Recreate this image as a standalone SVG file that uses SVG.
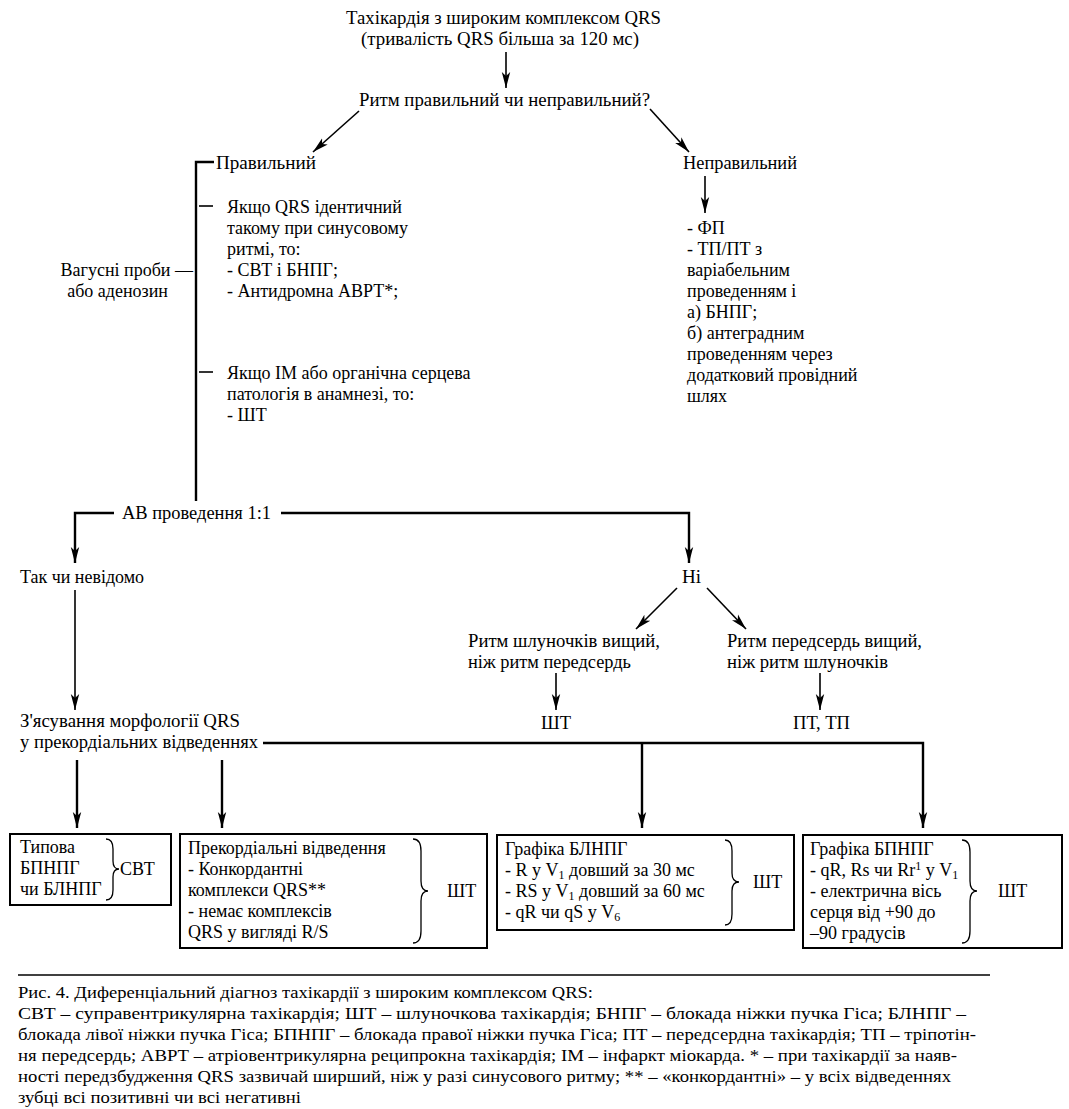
<svg xmlns="http://www.w3.org/2000/svg" width="1069" height="1109" viewBox="0 0 1069 1109">
<style>
  text { font-family: "Liberation Serif", "Times New Roman", serif; fill: #000; }
  .c { font-size: 19px; }
  .t { font-size: 18px; }
  .b { font-size: 18px; }
  .cap { font-size: 17px; }
  .ln { stroke: #000; stroke-width: 1.6; fill: none; }
  .thick { stroke: #000; stroke-width: 2.4; fill: none; }
  .box { stroke: #000; stroke-width: 2; fill: #fff; }
  .brace { stroke: #000; stroke-width: 1.3; fill: none; }
</style>
<defs>
  <marker id="ah" markerWidth="18" markerHeight="10" refX="16" refY="5" orient="auto" markerUnits="userSpaceOnUse">
    <path d="M0,0.8 L16,5 L0,9.2 L4,5 z" fill="#000"/>
  </marker>
</defs>
<rect width="1069" height="1109" fill="#fff"/>

<g id="connectors">
  <path class="ln" d="M506,52 V88" marker-end="url(#ah)"/>
  <path class="ln" d="M359,111 L313,152" marker-end="url(#ah)"/>
  <path class="ln" d="M650,109 L689,152" marker-end="url(#ah)"/>
  <path class="thick" d="M214,162 H196 V501"/>
  <path class="ln" d="M199,206 H213"/>
  <path class="ln" d="M199,372 H213"/>
  <path class="ln" d="M705,176 V213" marker-end="url(#ah)"/>
  <path class="thick" d="M114,513 H75 V563" marker-end="url(#ah)"/>
  <path class="thick" d="M281,513 H689 V563" marker-end="url(#ah)"/>
  <path class="ln" d="M75,590 V710" marker-end="url(#ah)"/>
  <path class="ln" d="M677,588 L636,629" marker-end="url(#ah)"/>
  <path class="ln" d="M707,588 L746,629" marker-end="url(#ah)"/>
  <path class="ln" d="M556,673 V710" marker-end="url(#ah)"/>
  <path class="ln" d="M820,673 V710" marker-end="url(#ah)"/>
  <path class="thick" d="M263,743 H923 V828" marker-end="url(#ah)"/>
  <path class="thick" d="M642,743 V828" marker-end="url(#ah)"/>
  <path class="thick" d="M77,760 V828" marker-end="url(#ah)"/>
  <path class="thick" d="M222,760 V828" marker-end="url(#ah)"/>
</g>

<g id="n-title">
  <text class="c" x="346" y="24" textLength="315" lengthAdjust="spacingAndGlyphs">Тахікардія з широким комплексом QRS</text>
  <text class="c" x="361" y="45" textLength="278" lengthAdjust="spacingAndGlyphs">(тривалість QRS більша за 120 мс)</text>
</g>
<g id="n-question">
  <text class="c" x="359" y="106" textLength="291" lengthAdjust="spacingAndGlyphs">Ритм правильний чи неправильний?</text>
</g>
<g id="n-regular">
  <text class="c" x="216" y="169" textLength="100" lengthAdjust="spacingAndGlyphs">Правильний</text>
</g>
<g id="n-irregular">
  <text class="c" x="683" y="169" textLength="114" lengthAdjust="spacingAndGlyphs">Неправильний</text>
</g>
<g id="n-vagal">
  <text class="t" x="193" y="276" text-anchor="end">Вагусні проби —</text>
  <text class="t" x="168" y="297" text-anchor="end">або аденозин</text>
</g>
<g id="n-identical">
  <text class="t" x="227" y="213">Якщо QRS ідентичний</text>
  <text class="t" x="227" y="234">такому при синусовому</text>
  <text class="t" x="227" y="255">ритмі, то:</text>
  <text class="t" x="227" y="276">- СВТ і БНПГ;</text>
  <text class="t" x="227" y="297">- Антидромна АВРТ*;</text>
</g>
<g id="n-mi">
  <text class="t" x="227" y="379">Якщо ІМ або органічна серцева</text>
  <text class="t" x="227" y="400">патологія в анамнезі, то:</text>
  <text class="t" x="227" y="421">- ШТ</text>
</g>
<g id="n-irregular-list">
  <text class="t" x="687" y="234">- ФП</text>
  <text class="t" x="687" y="255">- ТП/ПТ з</text>
  <text class="t" x="687" y="276">варіабельним</text>
  <text class="t" x="687" y="297">проведенням і</text>
  <text class="t" x="687" y="318">а) БНПГ;</text>
  <text class="t" x="687" y="339">б) антеградним</text>
  <text class="t" x="687" y="360">проведенням через</text>
  <text class="t" x="687" y="381">додатковий провідний</text>
  <text class="t" x="687" y="402">шлях</text>
</g>
<g id="n-av">
  <text class="c" x="122" y="519" textLength="149" lengthAdjust="spacingAndGlyphs">АВ проведення 1:1</text>
</g>
<g id="n-yes">
  <text class="c" x="20" y="583" textLength="124" lengthAdjust="spacingAndGlyphs">Так чи невідомо</text>
</g>
<g id="n-no">
  <text class="c" x="682" y="583" textLength="19" lengthAdjust="spacingAndGlyphs">Ні</text>
</g>
<g id="n-vent-faster">
  <text class="c" x="468" y="647" textLength="192" lengthAdjust="spacingAndGlyphs">Ритм шлуночків вищий,</text>
  <text class="c" x="468" y="668" textLength="163" lengthAdjust="spacingAndGlyphs">ніж ритм передсердь</text>
</g>
<g id="n-atr-faster">
  <text class="c" x="727" y="647" textLength="195" lengthAdjust="spacingAndGlyphs">Ритм передсердь вищий,</text>
  <text class="c" x="727" y="668" textLength="161" lengthAdjust="spacingAndGlyphs">ніж ритм шлуночків</text>
</g>
<g id="n-vt">
  <text class="c" x="541" y="729" textLength="30" lengthAdjust="spacingAndGlyphs">ШТ</text>
</g>
<g id="n-at">
  <text class="c" x="793" y="729" textLength="57" lengthAdjust="spacingAndGlyphs">ПТ, ТП</text>
</g>
<g id="n-morph">
  <text class="c" x="20" y="727" textLength="220" lengthAdjust="spacingAndGlyphs">З'ясування морфології QRS</text>
  <text class="c" x="20" y="748" textLength="238" lengthAdjust="spacingAndGlyphs">у прекордіальних відведеннях</text>
</g>

<g id="box1">
  <rect class="box" x="10" y="834" width="161" height="71"/>
  <text class="b" x="20" y="853">Типова</text>
  <text class="b" x="20" y="874">БПНПГ</text>
  <text class="b" x="20" y="895">чи БЛНПГ</text>
  <path class="brace" d="M106,839 Q113,839 113,849 L113,861 Q113,869 119,869 Q113,869 113,877 L113,890 Q113,900 106,900"/>
  <text class="b" x="120" y="875">СВТ</text>
</g>
<g id="box2">
  <rect class="box" x="180" y="834" width="307" height="114"/>
  <text class="b" x="188" y="854">Прекордіальні відведення</text>
  <text class="b" x="188" y="875">- Конкордантні</text>
  <text class="b" x="188" y="896">комплекси QRS**</text>
  <text class="b" x="188" y="917">- немає комплексів</text>
  <text class="b" x="188" y="938">QRS у вигляді R/S</text>
  <path class="brace" d="M413,839 Q421,839 421,851 L421,881 Q421,891 428,891 Q421,891 421,901 L421,931 Q421,943 413,943"/>
  <text class="b" x="447" y="897">ШТ</text>
</g>
<g id="box3">
  <rect class="box" x="497" y="835" width="297" height="95"/>
  <text class="b" x="505" y="855">Графіка БЛНПГ</text>
  <text class="b" x="505" y="876">- R у V<tspan font-size="12" dy="3">1</tspan><tspan dy="-3"> довший за 30  мс</tspan></text>
  <text class="b" x="505" y="897">- RS у V<tspan font-size="12" dy="3">1</tspan><tspan dy="-3"> довший за 60 мс</tspan></text>
  <text class="b" x="505" y="918">- qR чи qS у V<tspan font-size="12" dy="3">6</tspan></text>
  <path class="brace" d="M725,840 Q732,840 732,851 L732,873 Q732,882 739,882 Q732,882 732,891 L732,914 Q732,925 725,925"/>
  <text class="b" x="753" y="888">ШТ</text>
</g>
<g id="box4">
  <rect class="box" x="803" y="835" width="259" height="113"/>
  <text class="b" x="810" y="855">Графіка БПНПГ</text>
  <text class="b" x="810" y="876">- qR, Rs чи Rr<tspan font-size="12" dy="-6">1</tspan><tspan dy="6"> у V</tspan><tspan font-size="12" dy="3">1</tspan></text>
  <text class="b" x="810" y="897">- електрична вісь</text>
  <text class="b" x="810" y="918">серця від +90 до</text>
  <text class="b" x="810" y="939">–90 градусів</text>
  <path class="brace" d="M962,840 Q970,840 970,852 L970,881 Q970,891 977,891 Q970,891 970,901 L970,931 Q970,943 962,943"/>
  <text class="b" x="998" y="897">ШТ</text>
</g>

<g id="caption">
  <path class="ln" d="M18,975 H990"/>
  <text class="cap" x="18" y="998" textLength="575" lengthAdjust="spacingAndGlyphs">Рис. 4. Диференціальний діагноз тахікардії з широким комплексом QRS:</text>
  <text class="cap" x="18" y="1019" textLength="948" lengthAdjust="spacingAndGlyphs">СВТ – суправентрикулярна тахікардія; ШТ – шлуночкова тахікардія; БНПГ – блокада ніжки пучка Гіса; БЛНПГ –</text>
  <text class="cap" x="18" y="1040" textLength="958" lengthAdjust="spacingAndGlyphs">блокада лівої ніжки пучка Гіса; БПНПГ – блокада правої ніжки пучка Гіса; ПТ – передсердна тахікардія; ТП – тріпотін-</text>
  <text class="cap" x="18" y="1061" textLength="939" lengthAdjust="spacingAndGlyphs">ня передсердь; АВРТ – атріовентрикулярна реципрокна тахікардія; ІМ – інфаркт міокарда. * – при тахікардії за наяв-</text>
  <text class="cap" x="18" y="1082" textLength="933" lengthAdjust="spacingAndGlyphs">ності передзбудження QRS зазвичай ширший, ніж у разі синусового ритму; ** – «конкордантні» – у всіх відведеннях</text>
  <text class="cap" x="18" y="1103" textLength="283" lengthAdjust="spacingAndGlyphs">зубці всі позитивні чи всі негативні</text>
</g>
</svg>
